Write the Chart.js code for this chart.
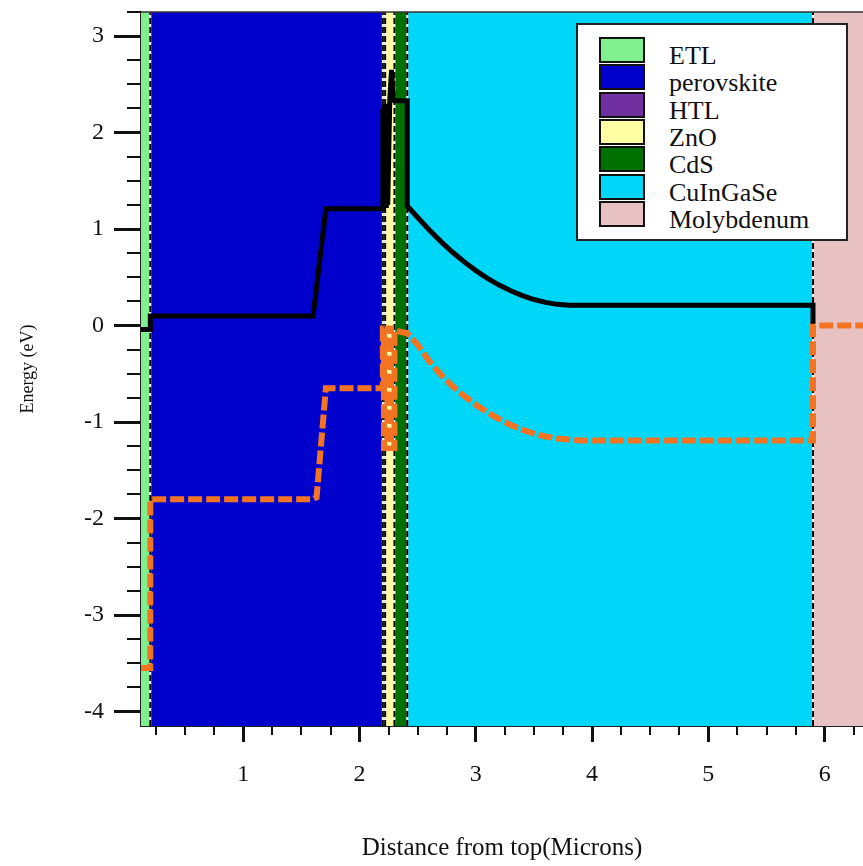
<!DOCTYPE html>
<html>
<head>
<meta charset="utf-8">
<script src="https://cdn.jsdelivr.net/npm/chart.js@4.4.0/dist/chart.umd.min.js"></script>
<style>
  html, body { margin: 0; padding: 0; background: #fff; }
  #wrap { position: relative; width: 863px; height: 866px; }
  #legend {
    position: absolute; left: 576px; top: 23px;
    width: 268px; height: 214px;
    border: 2px solid #222; background: #fff;
  }
  #legend .row { position: absolute; left: 21px; height: 26px; display: flex; align-items: center; }
  #legend .swatch { width: 46px; height: 26px; box-sizing: border-box; border: 2px solid #111; }
  #legend .label { margin-left: 24px; position: relative; top: 6px; font: 26px "Liberation Serif", serif; color: #111; white-space: nowrap; }
</style>
</head>
<body>
<div id="wrap">
  <canvas id="bandChart"></canvas>
  <div id="legend"></div>
</div>
<script>
// layers of the stack (microns)
const layerNames = ["ETL", "perovskite", "HTL", "ZnO", "CdS", "CuInGaSe", "Molybdenum"];
const layerColors = ["#80F08E", "#0000CC", "#7030A0", "#FFFFA4", "#007000", "#00D6F8", "#E8C2C2"];
const layerStart = [0.12, 0.2, 2.2, 2.22, 2.3, 2.41, 5.9];
const layerEnd = [0.2, 2.2, 2.22, 2.3, 2.41, 5.9, 6.33];
const interfaces = [0.2, 2.2, 2.22, 2.3, 2.41, 5.9];

// conduction band (black)
const cbX = [0.12, 0.2, 0.2, 1.6, 1.71, 2.2,
  2.2, 2.206, 2.212, 2.218, 2.224, 2.23, 2.236, 2.242, 2.26, 2.275, 2.29, 2.3, 2.41, 2.41,
  2.5, 2.6, 2.7, 2.8, 2.9, 3.0, 3.1, 3.2, 3.3, 3.4, 3.5, 3.6, 3.7, 3.8, 3.9, 5.9, 5.9];
const cbY = [-0.04, -0.04, 0.1, 0.1, 1.21, 1.21,
  2.25, 1.22, 2.3, 1.22, 2.3, 1.22, 2.3, 1.25, 2.35, 2.65, 2.35, 2.33, 2.33, 1.24,
  1.12, 0.99, 0.87, 0.76, 0.66, 0.57, 0.49, 0.42, 0.36, 0.31, 0.27, 0.24, 0.22, 0.21, 0.21, 0.21, 0.02];

// valence band (orange dashed)
const vbX = [0.12, 0.2, 0.2, 1.6, 1.63, 1.71, 2.2, 2.2, 2.21, 2.21, 2.24, 2.24, 2.27, 2.27, 2.3, 2.3, 2.41,
  2.5, 2.6, 2.7, 2.8, 2.9, 3.0, 3.1, 3.2, 3.3, 3.4, 3.5, 3.6, 3.7, 3.8, 3.9, 5.9, 5.9, 6.33];
const vbY = [-3.55, -3.55, -1.8, -1.8, -1.78, -0.65, -0.65, -0.03, -0.03, -1.27, -1.27, -0.03, -0.03, -1.27, -1.27, -0.05, -0.08,
  -0.2, -0.37, -0.51, -0.63, -0.73, -0.82, -0.9, -0.97, -1.03, -1.08, -1.12, -1.15, -1.17, -1.18, -1.19, -1.19, 0, 0];

const xTickLabels = [1, 2, 3, 4, 5, 6];
const yTickLabels = [-4, -3, -2, -1, 0, 1, 2, 3];
const xMin = 0.12, xMax = 6.33, yMin = -4.15, yMax = 3.25;

function toPoints(xs, ys) {
  return xs.map((x, i) => ({ x: x, y: ys[i] }));
}

function buildLayerSets() {
  return layerNames.map((name, i) => ({
    label: name,
    data: [{ x: layerStart[i], y: yMax }, { x: layerEnd[i], y: yMax }],
    fill: "start",
    backgroundColor: layerColors[i],
    borderWidth: 0,
    pointRadius: 0
  }));
}

function interfacePoints() {
  const pts = [];
  interfaces.forEach(b => {
    pts.push({ x: b, y: yMin }, { x: b, y: yMax }, { x: b, y: null });
  });
  return pts;
}

const tickFont = { family: "'Liberation Serif', serif", size: 24 };

const minorTicks = {
  id: "minorTicks",
  afterDraw(chart) {
    const ctx = chart.ctx;
    const xs = chart.scales.x;
    const ys = chart.scales.y;
    const area = chart.chartArea;
    ctx.save();
    ctx.strokeStyle = "#111";
    ctx.lineWidth = 2;
    for (let v = Math.ceil(xMin * 4) / 4; v <= xMax; v += 0.25) {
      if (Math.abs(v - Math.round(v)) < 1e-6) continue;
      const px = Math.round(xs.getPixelForValue(v));
      ctx.beginPath();
      ctx.moveTo(px, area.bottom);
      ctx.lineTo(px, area.bottom + 9);
      ctx.stroke();
    }
    for (let v = Math.ceil(yMin * 4) / 4; v <= yMax + 1e-6; v += 0.25) {
      if (Math.abs(v - Math.round(v)) < 1e-6) continue;
      const py = Math.round(ys.getPixelForValue(v));
      ctx.beginPath();
      ctx.moveTo(area.left - 14, py);
      ctx.lineTo(area.left, py);
      ctx.stroke();
    }
    // top frame line
    ctx.strokeStyle = "#333";
    ctx.lineWidth = 1.5;
    ctx.beginPath();
    ctx.moveTo(area.left, area.top);
    ctx.lineTo(area.right, area.top);
    ctx.stroke();
    ctx.restore();
  }
};

new Chart(document.getElementById("bandChart"), {
  type: "line",
  data: {
    datasets: [
      {
        label: "Ec",
        data: toPoints(cbX, cbY),
        borderColor: "#000",
        borderWidth: 5,
        pointRadius: 0,
        fill: false,
        tension: 0
      },
      {
        label: "Ev",
        data: toPoints(vbX, vbY),
        borderColor: "#F27423",
        borderWidth: 6,
        borderDash: [14, 4],
        pointRadius: 0,
        fill: false,
        tension: 0
      },
      {
        label: "interfaces",
        data: interfacePoints(),
        borderColor: "#000",
        borderWidth: 2,
        borderDash: [6, 3],
        pointRadius: 0,
        fill: false
      },
      {
        label: "interfaces-under",
        data: interfacePoints(),
        borderColor: "#fff",
        borderWidth: 2,
        pointRadius: 0,
        fill: false
      },
      ...buildLayerSets()
    ]
  },
  options: {
    responsive: true,
    maintainAspectRatio: false,
    animation: false,
    layout: { padding: { top: 12, left: 0, right: 0, bottom: 0 } },
    plugins: {
      legend: { display: false },
      tooltip: { enabled: false }
    },
    scales: {
      x: {
        type: "linear",
        min: xMin,
        max: xMax,
        afterBuildTicks: s => { s.ticks = xTickLabels.map(v => ({ value: v })); },
        afterFit: s => { s.height = 140; s.paddingLeft = 0; s.paddingRight = 0; },
        ticks: { font: tickFont, color: "#111", padding: 18, maxRotation: 0, autoSkip: false },
        grid: { display: true, drawOnChartArea: false, tickLength: 16, tickWidth: 3, tickColor: "#111" },
        border: { display: true, color: "#222", width: 2 },
        title: {
          display: true,
          text: "Distance from top(Microns)",
          color: "#111",
          font: { family: "'Liberation Serif', serif", size: 25 },
          padding: { top: 0, bottom: 3 }
        }
      },
      y: {
        type: "linear",
        min: yMin,
        max: yMax,
        afterBuildTicks: s => { s.ticks = yTickLabels.map(v => ({ value: v })); },
        afterFit: s => { s.width = 141; s.paddingTop = 0; s.paddingBottom = 0; },
        ticks: { font: tickFont, color: "#111", padding: 10 },
        grid: { display: true, drawOnChartArea: false, tickLength: 27, tickWidth: 3, tickColor: "#111" },
        border: { display: true, color: "#222", width: 2 },
        title: {
          display: true,
          text: "Energy (eV)",
          color: "#111",
          font: { family: "'Liberation Serif', serif", size: 18 },
          padding: { top: 17, bottom: 0 }
        }
      }
    }
  },
  plugins: [minorTicks]
});

// legend box
const legend = document.getElementById("legend");
layerNames.forEach((name, i) => {
  const row = document.createElement("div");
  row.className = "row";
  row.style.top = (12 + i * 27.3) + "px";
  row.innerHTML = `<div class="swatch" style="background:${layerColors[i]}"></div><span class="label">${name}</span>`;
  legend.appendChild(row);
});
</script>
</body>
</html>
